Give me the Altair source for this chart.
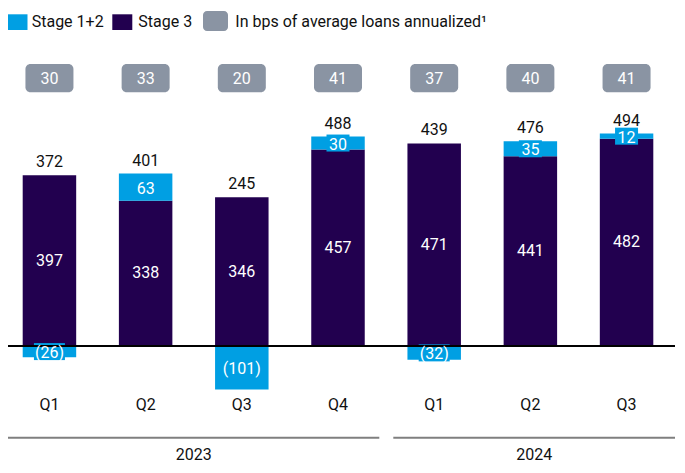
import altair as alt
import pandas as pd

# ---- data -------------------------------------------------------------
quarters = ["Q1", "Q2", "Q3", "Q4", "Q1", "Q2", "Q3"]
years = ["2023", "2023", "2023", "2023", "2024", "2024", "2024"]
stage12 = [-26, 63, -101, 30, -32, 35, 12]
stage3 = [397, 338, 346, 457, 471, 441, 482]
totals = [372, 401, 245, 488, 439, 476, 494]
bps = [30, 33, 20, 41, 37, 40, 41]
year_labels = ["2023", "2024"]
legend_labels = ["Stage 1+2", "Stage 3", "In bps of average loans annualized\u00b9"]

BLUE = "#009fe3"
DARK = "#22004f"
GRAY = "#8a94a3"
LINE_GRAY = "#7f7f7f"
FONT = "Roboto"
FS = 16

df = pd.DataFrame({
    "key": [f"{y} {q}" for y, q in zip(years, quarters)],
    "quarter": quarters,
    "year": years,
    "s12": stage12,
    "s3": stage3,
    "total": totals,
    "bps": bps,
})
df["s12_label"] = [f"({-v})" if v < 0 else str(v) for v in stage12]

W, H = 660, 457
yscale = alt.Scale(domain=[-(H - 338) / 0.43, 338 / 0.43], nice=False, zero=False)
X = alt.X("key:N", sort=None, axis=None,
          scale=alt.Scale(paddingInner=0.4439, paddingOuter=0.1528))

base = alt.Chart(df).transform_calculate(
    lo="datum.s12 >= 0 ? datum.s3 : 0"
).transform_calculate(
    hi="datum.s12 >= 0 ? datum.s3 + datum.s12 : datum.s12"
).transform_calculate(
    mid12="(datum.lo + datum.hi) / 2",
    mid3="datum.s3 / 2",
    top="datum.s3 + max(datum.s12, 0)",
    boxw="4 * length(datum.s12_label) + 15",
    base0="0",
)

s3_bars = base.mark_bar(color=DARK).encode(
    x=X, y=alt.Y("s3:Q", scale=yscale, axis=None), y2="base0:Q")
s12_bars = base.mark_bar(color=BLUE).encode(
    x=X, y=alt.Y("lo:Q", scale=yscale, axis=None), y2="hi:Q")
s12_box = base.mark_bar(color=BLUE, yOffset=-8.5, y2Offset=8.5).encode(
    x=X, y=alt.Y("mid12:Q", scale=yscale, axis=None), y2="mid12:Q",
    size=alt.Size("boxw:Q", scale=None, legend=None))
zero_rule = base.mark_rule(color="#000000", strokeWidth=1).encode(
    y=alt.Y("base0:Q", scale=yscale, axis=None), x=alt.value(0), x2=alt.value(667))
s12_text = base.mark_text(color="white", font=FONT, fontSize=FS, dy=1.5).encode(
    x=X, y=alt.Y("mid12:Q", scale=yscale, axis=None), text="s12_label:N")
s3_text = base.mark_text(color="white", font=FONT, fontSize=FS).encode(
    x=X, y=alt.Y("mid3:Q", scale=yscale, axis=None), text="s3:Q")
tot_text = base.mark_text(color="#111111", font=FONT, fontSize=FS, dy=-13).encode(
    x=X, y=alt.Y("top:Q", scale=yscale, axis=None), text="total:Q")

bps_box = base.mark_bar(color=GRAY, cornerRadius=5, width=48).encode(
    x=X, y=alt.value(56), y2=alt.value(84.3))
bps_text = base.mark_text(color="white", font=FONT, fontSize=FS).encode(
    x=X, y=alt.value(70.5), text="bps:Q")

q_text = base.mark_text(color="#111111", font=FONT, fontSize=FS).encode(
    x=X, y=alt.value(397), text="quarter:N")

ydf = pd.DataFrame({"year": year_labels})
year_layers = []
for yr, (x0, x1) in zip(year_labels, [(0, 371.3), (385.3, 667)]):
    c = alt.Chart(ydf).transform_filter(alt.datum.year == yr)
    year_layers.append(c.mark_rule(color=LINE_GRAY, strokeWidth=2).encode(
        x=alt.value(x0), x2=alt.value(x1), y=alt.value(429.7)))
    year_layers.append(c.mark_text(color="#111111", font=FONT, fontSize=FS).encode(
        x=alt.value((x0 + x1) / 2), y=alt.value(447), text="year:N"))

ldf = pd.DataFrame({"label": legend_labels})
legend_layers = []
sym_specs = [  # x0, x1, y0, y1, radius, color
    (0, 19.5, 6.3, 22, 0, BLUE),
    (104.3, 124.3, 6.3, 22, 0, DARK),
    (195, 220, 3, 23, 4, GRAY),
]
text_x = [23.7, 130.3, 227.3]
for lab, (x0, x1, y0, y1, r, col), tx in zip(legend_labels, sym_specs, text_x):
    c = alt.Chart(ldf).transform_filter(alt.datum.label == lab)
    legend_layers.append(c.mark_rect(color=col, cornerRadius=r).encode(
        x=alt.value(x0), x2=alt.value(x1), y=alt.value(y0), y2=alt.value(y1)))
    legend_layers.append(c.mark_text(color="#111111", font=FONT, fontSize=FS,
                                     align="left").encode(
        x=alt.value(tx), y=alt.value(14), text="label:N"))

chart = alt.layer(
    s3_bars, s12_bars, s12_box, zero_rule, s12_text, s3_text, tot_text,
    bps_box, bps_text, q_text, *year_layers, *legend_layers
).properties(
    width=W, height=H,
    autosize=alt.AutoSizeParams(type="none"),
    padding={"left": 0, "right": 9, "top": 0, "bottom": 0},
).configure_view(stroke=None)

chart.save("out.html", embed_options={"renderer": "svg", "actions": False})
